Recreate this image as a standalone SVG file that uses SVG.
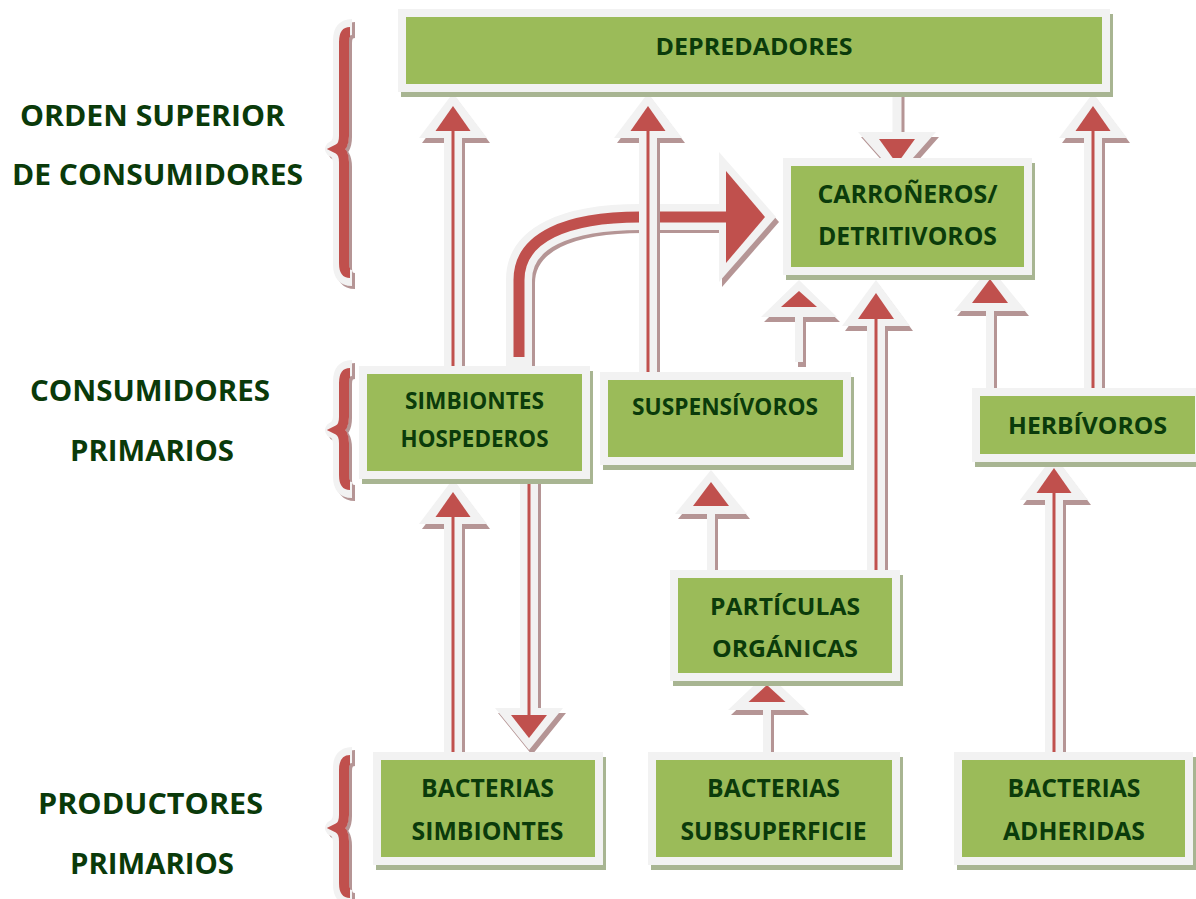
<svg xmlns="http://www.w3.org/2000/svg" width="1196" height="899" viewBox="0 0 1196 899">
<style>
.bs{fill:#A8B592}
.bo{fill:#F2F2F2}
.bi{fill:#9BBB59}
.t{font-family:"Open Sans","Liberation Sans",sans-serif;font-weight:bold;fill:#0B3B0B;text-anchor:middle}
.lab{font-family:"Open Sans","Liberation Sans",sans-serif;font-weight:bold;fill:#0A3A0A;text-anchor:middle;font-size:28px}
.as{fill:#B59595}
.ag{fill:#F2F2F2}
.ar{fill:#C0504D}
.bsh{fill:none;stroke:#B59595;stroke-width:16;stroke-linejoin:round}
.bgr{fill:none;stroke:#F2F2F2;stroke-width:16;stroke-linejoin:round}
.brd{fill:none;stroke:#C0504D;stroke-width:10}
</style>
<rect width="1196" height="899" fill="#ffffff"/>

<g id="labels">
<text class="lab" x="152.5" y="126" textLength="265" lengthAdjust="spacingAndGlyphs">ORDEN SUPERIOR</text>
<text class="lab" x="157.5" y="185" textLength="291" lengthAdjust="spacingAndGlyphs">DE CONSUMIDORES</text>
<text class="lab" x="150" y="401" textLength="240" lengthAdjust="spacingAndGlyphs">CONSUMIDORES</text>
<text class="lab" x="152" y="461" textLength="164" lengthAdjust="spacingAndGlyphs">PRIMARIOS</text>
<text class="lab" x="150.5" y="814" textLength="225" lengthAdjust="spacingAndGlyphs">PRODUCTORES</text>
<text class="lab" x="152" y="874" textLength="164" lengthAdjust="spacingAndGlyphs">PRIMARIOS</text>
</g>

<g id="braces">
<g transform="translate(3,3)">
<path class="bsh" d="M 352 27 Q 341 27 341 40 L 341 134 Q 341 146 333 149 Q 341 152 341 164 L 341 265 Q 341 278 352 278"/>
<path class="bsh" d="M 352 368 Q 341 368 341 381 L 341 415 Q 341 427 333 430 Q 341 433 341 445 L 341 477 Q 341 490 352 490"/>
<path class="bsh" d="M 352 755 Q 341 755 341 768 L 341 813 Q 341 825 333 828 Q 341 831 341 843 L 341 885 Q 341 898 352 898"/>
</g>
<path class="bgr" d="M 352 27 Q 341 27 341 40 L 341 134 Q 341 146 333 149 Q 341 152 341 164 L 341 265 Q 341 278 352 278"/>
<path class="bgr" d="M 352 368 Q 341 368 341 381 L 341 415 Q 341 427 333 430 Q 341 433 341 445 L 341 477 Q 341 490 352 490"/>
<path class="bgr" d="M 352 755 Q 341 755 341 768 L 341 813 Q 341 825 333 828 Q 341 831 341 843 L 341 885 Q 341 898 352 898"/>
<path class="brd" d="M 350 32 Q 344 32 344 42 L 344 136 Q 344 146 338 149 Q 344 152 344 162 L 344 263 Q 344 273 350 273"/>
<path class="brd" d="M 350 373 Q 344 373 344 383 L 344 417 Q 344 427 338 430 Q 344 433 344 443 L 344 475 Q 344 485 350 485"/>
<path class="brd" d="M 350 760 Q 344 760 344 770 L 344 815 Q 344 825 338 828 Q 344 831 344 841 L 344 883 Q 344 893 350 893"/>
</g>

<g id="connectors">
<g id="c-big">
<path d="M 522 369 L 522 283 C 522 240 570 220 643 220 L 722 220" fill="none" stroke="#B59595" stroke-width="26"/>
<polygon class="as" points="722,157 779,222 722,287"/>
<path d="M 519 366 L 519 280 C 519 237 567 217 640 217 L 722 217" fill="none" stroke="#F2F2F2" stroke-width="26"/>
<polygon class="ag" points="719,152 776,217 719,282"/>
<path d="M 519 357 L 519 280 C 519 237 567 217 640 217 L 728 217" fill="none" stroke="#C0504D" stroke-width="11"/>
<polygon class="ar" points="726,171 765,217 726,263"/>
</g>
<g id="c-a1">
<polygon class="as" points="456,98 490,143 465,143 465,371 447,371 447,143 422,143"/>
<polygon class="ag" points="453,93 487,138 462,138 462,366 444,366 444,138 419,138"/>
<polygon class="ar" points="453,106 470.5,131 435.5,131"/>
<rect class="ar" x="451.5" y="131" width="3" height="235"/>
</g>
<g id="c-a2">
<polygon class="as" points="651,98 685,143 660,143 660,377 642,377 642,143 617,143"/>
<polygon class="ag" points="648,93 682,138 657,138 657,372 639,372 639,138 614,138"/>
<polygon class="ar" points="648,106 665.5,131 630.5,131"/>
<rect class="ar" x="646.5" y="131" width="3" height="241"/>
</g>
<g id="c-a3">
<polygon class="as" points="900,181 939,137 904.5,137 904.5,97 895.5,97 895.5,137 861,137"/>
<polygon class="ag" points="897,176 936,132 901.5,132 901.5,92 892.5,92 892.5,132 858,132"/>
<polygon class="ar" points="897,164 915,139 879,139"/>
</g>
<g id="c-a4">
<polygon class="as" points="802,285 840,322 806,322 806,367 798,367 798,322 764,322"/>
<polygon class="ag" points="799,280 837,317 803,317 803,362 795,362 795,317 761,317"/>
<polygon class="ar" points="799,291 817,307 781,307"/>
</g>
<g id="c-a5">
<polygon class="as" points="879,285 913,331 888,331 888,575 870,575 870,331 845,331"/>
<polygon class="ag" points="876,280 910,326 885,326 885,570 867,570 867,326 842,326"/>
<polygon class="ar" points="876,293 894,319 858,319"/>
<rect class="ar" x="874.5" y="319" width="3" height="251"/>
</g>
<g id="c-a6">
<polygon class="as" points="993,272 1029,316 997,316 997,393 989,393 989,316 957,316"/>
<polygon class="ag" points="990,267 1026,311 994,311 994,388 986,388 986,311 954,311"/>
<polygon class="ar" points="990,279 1008,303 972,303"/>
</g>
<g id="c-a7">
<polygon class="as" points="1096,98 1130,143 1105,143 1105,393 1087,393 1087,143 1062,143"/>
<polygon class="ag" points="1093,93 1127,138 1102,138 1102,388 1084,388 1084,138 1059,138"/>
<polygon class="ar" points="1093,106 1110.5,131 1075.5,131"/>
<rect class="ar" x="1091.5" y="131" width="3" height="257"/>
</g>
<g id="c-a8">
<polygon class="as" points="456,484 490,529 465,529 465,757 447,757 447,529 422,529"/>
<polygon class="ag" points="453,479 487,524 462,524 462,752 444,752 444,524 419,524"/>
<polygon class="ar" points="453,492 470.5,517 435.5,517"/>
<rect class="ar" x="451.5" y="517" width="3" height="235"/>
</g>
<g id="c-a9">
<polygon class="as" points="532,755 566,713 541,713 541,484 523,484 523,713 498,713"/>
<polygon class="ag" points="529,750 563,708 538,708 538,479 520,479 520,708 495,708"/>
<polygon class="ar" points="529,738 547,715 511,715"/>
<rect class="ar" x="527.5" y="479" width="3" height="236"/>
</g>
<g id="c-a10">
<polygon class="as" points="714,475 750,519 718,519 718,575 710,575 710,519 678,519"/>
<polygon class="ag" points="711,470 747,514 715,514 715,570 707,570 707,514 675,514"/>
<polygon class="ar" points="711,482 729,506 693,506"/>
</g>
<g id="c-a11">
<polygon class="as" points="770,678 809,715 774,715 774,757 766,757 766,715 731,715"/>
<polygon class="ag" points="767,673 806,710 771,710 771,752 763,752 763,710 728,710"/>
<polygon class="ar" points="767,685 785.5,702 748.5,702"/>
</g>
<g id="c-a12">
<polygon class="as" points="1057,460 1091,505 1066,505 1066,757 1048,757 1048,505 1023,505"/>
<polygon class="ag" points="1054,455 1088,500 1063,500 1063,752 1045,752 1045,500 1020,500"/>
<polygon class="ar" points="1054,468 1071.5,493 1036.5,493"/>
<rect class="ar" x="1052.5" y="493" width="3" height="259"/>
</g>
</g>

<g id="n-depredadores">
<rect class="bs" x="401" y="14" width="712" height="83"/>
<rect class="bo" x="398" y="9" width="712" height="83"/>
<rect class="bi" x="406" y="17" width="696" height="67"/>
<text class="t" x="754" y="55" font-size="24" textLength="197" lengthAdjust="spacingAndGlyphs">DEPREDADORES</text>
</g>
<g id="n-carroneros">
<rect class="bs" x="786" y="163" width="249" height="117"/>
<rect class="bo" x="783" y="158" width="249" height="117"/>
<rect class="bi" x="791" y="166" width="233" height="101"/>
<text class="t" x="907.5" y="203" font-size="25" textLength="180" lengthAdjust="spacingAndGlyphs">CARROÑEROS/</text>
<text class="t" x="907.5" y="245" font-size="25" textLength="179" lengthAdjust="spacingAndGlyphs">DETRITIVOROS</text>
</g>
<g id="n-simbiontes-hospederos">
<rect class="bs" x="362" y="371" width="231" height="113"/>
<rect class="bo" x="359" y="366" width="231" height="113"/>
<rect class="bi" x="367" y="374" width="215" height="97"/>
<text class="t" x="474.5" y="409" font-size="23" textLength="139" lengthAdjust="spacingAndGlyphs">SIMBIONTES</text>
<text class="t" x="474.5" y="447" font-size="23" textLength="148" lengthAdjust="spacingAndGlyphs">HOSPEDEROS</text>
</g>
<g id="n-suspensivoros">
<rect class="bs" x="603" y="377" width="251" height="93"/>
<rect class="bo" x="600" y="372" width="251" height="93"/>
<rect class="bi" x="608" y="380" width="235" height="77"/>
<text class="t" x="725" y="415" font-size="23" textLength="186" lengthAdjust="spacingAndGlyphs">SUSPENSÍVOROS</text>
</g>
<g id="n-herbivoros">
<rect class="bs" x="975" y="393" width="232" height="74"/>
<rect class="bo" x="972" y="388" width="232" height="74"/>
<rect class="bi" x="980" y="396" width="215" height="58"/>
<text class="t" x="1087.5" y="434" font-size="24" textLength="159" lengthAdjust="spacingAndGlyphs">HERBÍVOROS</text>
</g>
<g id="n-particulas">
<rect class="bs" x="673" y="575" width="230" height="111"/>
<rect class="bo" x="670" y="570" width="230" height="111"/>
<rect class="bi" x="678" y="578" width="214" height="95"/>
<text class="t" x="785" y="615" font-size="24" textLength="150" lengthAdjust="spacingAndGlyphs">PARTÍCULAS</text>
<text class="t" x="785" y="657" font-size="24" textLength="146" lengthAdjust="spacingAndGlyphs">ORGÁNICAS</text>
</g>
<g id="n-bacterias-simbiontes">
<rect class="bs" x="376" y="757" width="230" height="113"/>
<rect class="bo" x="373" y="752" width="230" height="113"/>
<rect class="bi" x="381" y="760" width="214" height="97"/>
<text class="t" x="487.5" y="797" font-size="25" textLength="133" lengthAdjust="spacingAndGlyphs">BACTERIAS</text>
<text class="t" x="487.5" y="840" font-size="25" textLength="152" lengthAdjust="spacingAndGlyphs">SIMBIONTES</text>
</g>
<g id="n-bacterias-subsuperficie">
<rect class="bs" x="651" y="757" width="252" height="113"/>
<rect class="bo" x="648" y="752" width="252" height="113"/>
<rect class="bi" x="656" y="760" width="236" height="97"/>
<text class="t" x="773.5" y="797" font-size="25" textLength="133" lengthAdjust="spacingAndGlyphs">BACTERIAS</text>
<text class="t" x="773.5" y="840" font-size="25" textLength="186" lengthAdjust="spacingAndGlyphs">SUBSUPERFICIE</text>
</g>
<g id="n-bacterias-adheridas">
<rect class="bs" x="957" y="757" width="239" height="113"/>
<rect class="bo" x="954" y="752" width="239" height="113"/>
<rect class="bi" x="962" y="760" width="223" height="97"/>
<text class="t" x="1074" y="797" font-size="25" textLength="133" lengthAdjust="spacingAndGlyphs">BACTERIAS</text>
<text class="t" x="1074" y="840" font-size="25" textLength="142" lengthAdjust="spacingAndGlyphs">ADHERIDAS</text>
</g>
</svg>
